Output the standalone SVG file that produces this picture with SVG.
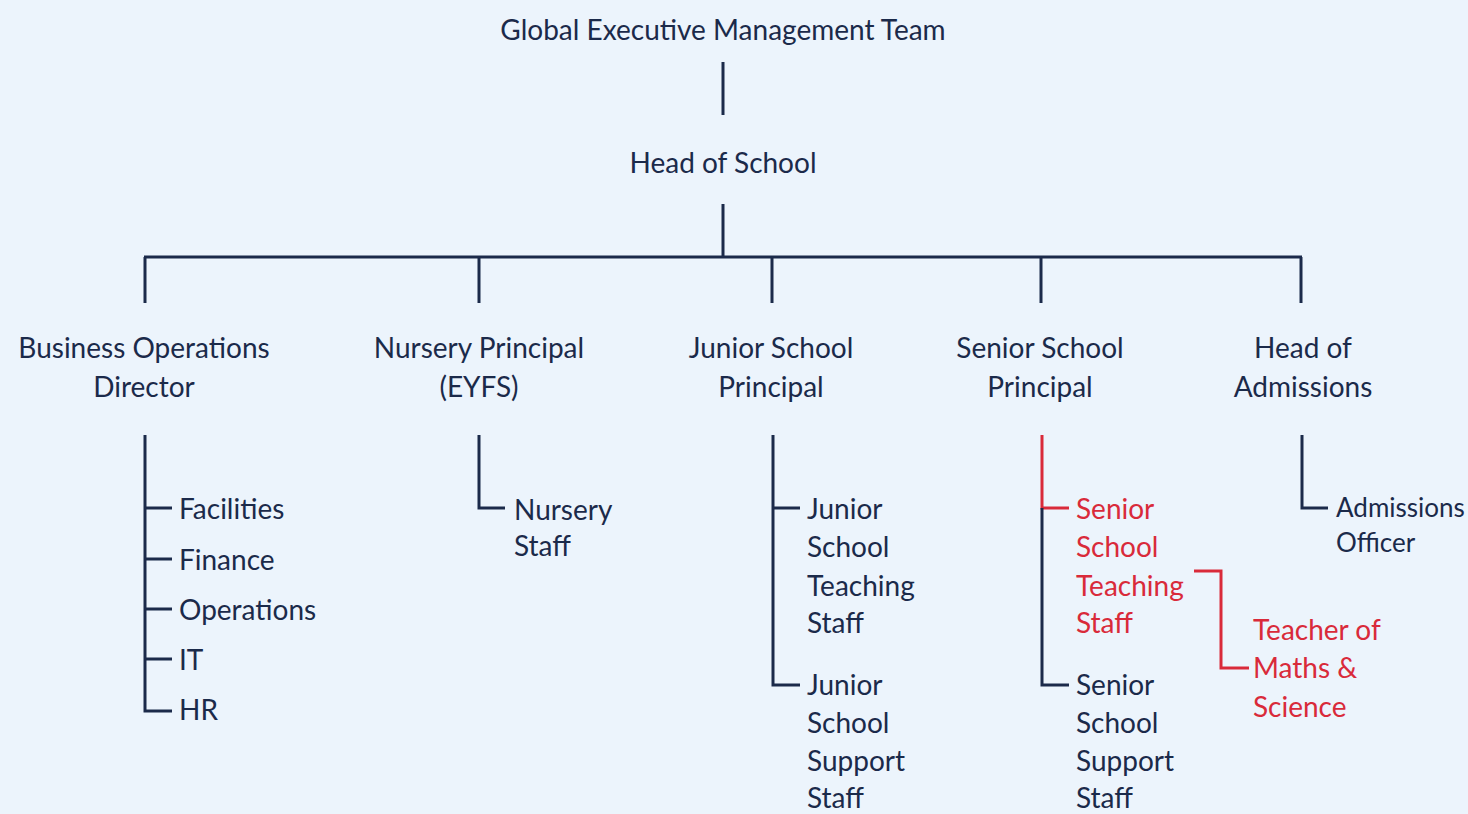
<svg xmlns="http://www.w3.org/2000/svg" width="1468" height="814" viewBox="0 0 1468 814">
<style>
text{font-family:"Lato","Liberation Sans",sans-serif;font-size:28px;fill:#1b2a4a}
.c{text-anchor:middle}
.r{fill:#d92a3a}
.sm{font-size:26px}
.ln{stroke:#1b2a4a;stroke-width:3;fill:none}
.lr{stroke:#d92a3a;stroke-width:3;fill:none}
</style>
<rect width="1468" height="814" fill="#ecf4fc"/>
<g id="connectors">
<path class="ln" d="M723 62V115M723 204V257M144 257H1302M145 257V303M479 257V303M772 257V303M1041 257V303M1301 257V303"/>
<path class="ln" d="M145 435V711H172M145 508H172M145 559H172M145 609H172M145 659H172"/>
<path class="ln" d="M479 435V508H505"/>
<path class="ln" d="M773 435V685H800M773 508H800"/>
<path class="lr" d="M1042 435V508H1069"/>
<path class="ln" d="M1042 508V685H1069"/>
<path class="lr" d="M1194 571H1221V668H1249"/>
<path class="ln" d="M1302 435V508H1328"/>
</g>
<g id="global"><text class="c" x="723" y="40">Global Executive Management Team</text></g>
<g id="head"><text class="c" x="723" y="173">Head of School</text></g>
<g id="bod"><text class="c" x="144" y="358">Business Operations</text><text class="c" x="144" y="397">Director</text></g>
<g id="nursery"><text class="c" x="479" y="358">Nursery Principal</text><text class="c" x="479" y="397">(EYFS)</text></g>
<g id="junior"><text class="c" x="771" y="358">Junior School</text><text class="c" x="771" y="397">Principal</text></g>
<g id="senior"><text class="c" x="1040" y="358">Senior School</text><text class="c" x="1040" y="397">Principal</text></g>
<g id="admissions"><text class="c" x="1303" y="358">Head of</text><text class="c" x="1303" y="397">Admissions</text></g>
<g id="facilities"><text x="179" y="519">Facilities</text></g>
<g id="finance"><text x="179" y="570">Finance</text></g>
<g id="operations"><text x="179" y="620">Operations</text></g>
<g id="it"><text x="179" y="670">IT</text></g>
<g id="hr"><text x="179" y="720">HR</text></g>
<g id="nursery-staff"><text x="514" y="520">Nursery</text><text x="514" y="556">Staff</text></g>
<g id="jst"><text x="807" y="519">Junior</text><text x="807" y="557">School</text><text x="807" y="596">Teaching</text><text x="807" y="633">Staff</text></g>
<g id="jss"><text x="807" y="695">Junior</text><text x="807" y="733">School</text><text x="807" y="771">Support</text><text x="807" y="808">Staff</text></g>
<g id="sst"><text class="r" x="1076" y="519">Senior</text><text class="r" x="1076" y="557">School</text><text class="r" x="1076" y="596">Teaching</text><text class="r" x="1076" y="633">Staff</text></g>
<g id="sss"><text x="1076" y="695">Senior</text><text x="1076" y="733">School</text><text x="1076" y="771">Support</text><text x="1076" y="808">Staff</text></g>
<g id="tms"><text class="r" x="1253" y="640">Teacher of</text><text class="r" x="1253" y="678">Maths &amp;</text><text class="r" x="1253" y="717">Science</text></g>
<g id="adm-officer"><text class="sm" x="1336" y="517">Admissions</text><text class="sm" x="1336" y="552">Officer</text></g>
</svg>
